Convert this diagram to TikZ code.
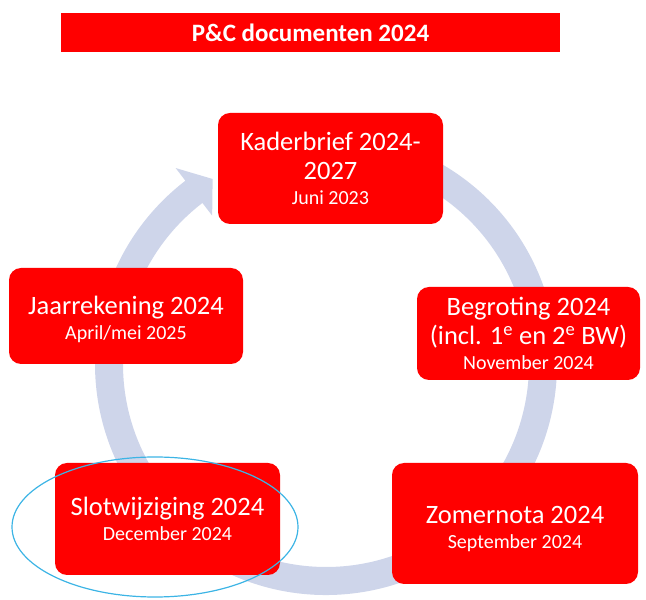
\documentclass[tikz,border=0pt]{standalone}
\usepackage{fontspec}
\setmainfont{Carlito}
\usetikzlibrary{calc}
\definecolor{pcred}{RGB}{255,0,0}
\definecolor{ringcol}{RGB}{206,213,234}
\definecolor{ellcol}{RGB}{60,180,229}
\newcommand\subf{\fontsize{20}{24}\selectfont}
\tikzset{
  pcbox/.style={rectangle, rounded corners=12pt, fill=pcred, text=white,
    inner sep=0pt, align=center, font=\fontsize{26.5}{29}\selectfont},
}
\begin{document}
\begin{tikzpicture}[x=1pt,y=1pt]
\useasboundingbox (0,0) rectangle (646,600);
% title
\node[fill=pcred, text=white, minimum width=499pt, minimum height=39pt, inner sep=0pt,
  font=\fontsize{25}{28}\selectfont\bfseries] (title) at (310.5,567.5) {P\&C documenten 2024};
% ring arrow
\coordinate (c) at (326,236);
\fill[ringcol] ($(c)+(60:231pt)$) arc[start angle=60, end angle=-232.5, radius=231pt]
  -- ($(c)+(-232.5:247pt)$) -- ($(c)+(-238.5:217pt)$) -- ($(c)+(-232.5:187pt)$)
  -- ($(c)+(-232.5:203pt)$) arc[start angle=-232.5, end angle=60, radius=203pt] -- cycle;
% boxes
\node[pcbox, minimum width=225pt, minimum height=111pt] (kader) at (330.5,431.5)
  {Kaderbrief 2024-\\2027\\[-4pt]\subf Juni 2023};
\node[pcbox, minimum width=234pt, minimum height=96pt] (jaar) at (126,284)
  {\rule{0pt}{25pt}Jaarrekening 2024\\[-4pt]\subf April/mei 2025};
\node[pcbox, minimum width=223pt, minimum height=93pt] (begr) at (528.5,266.5)
  {Begroting 2024\\(incl. 1\textsuperscript{e} en 2\textsuperscript{e} BW)\\[-4pt]\subf November 2024};
\node[pcbox, minimum width=225pt, minimum height=112pt] (slot) at (167.5,81)
  {Slotwijziging 2024\\[-4pt]\subf December 2024};
\node[pcbox, minimum width=246pt, minimum height=121pt] (zomer) at (515,76.5)
  {\rule{0pt}{29pt}Zomernota 2024\\[-4pt]\subf September 2024};
% highlight ellipse
\draw[ellcol, line width=1.2pt] (155,73) ellipse[x radius=143pt, y radius=70pt];
\end{tikzpicture}
\end{document}
